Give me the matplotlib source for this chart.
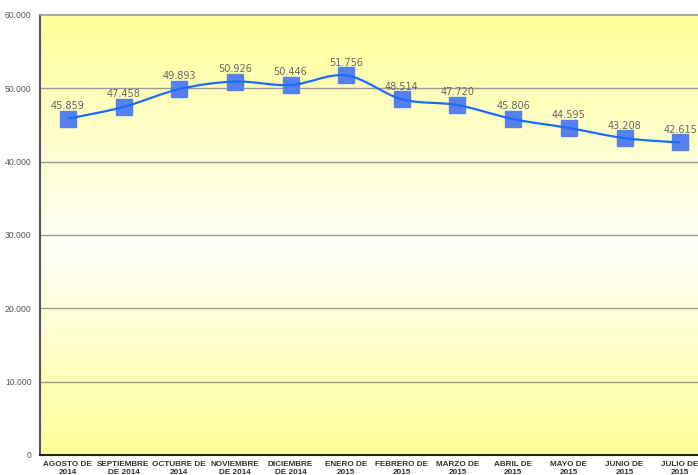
import matplotlib
matplotlib.use("Agg")
import matplotlib.pyplot as plt
import numpy as np
from matplotlib.path import Path
from matplotlib.patches import PathPatch
from matplotlib.colors import LinearSegmentedColormap

categories = ["AGOSTO DE\n2014", "SEPTIEMBRE\nDE 2014", "OCTUBRE DE\n2014", "NOVIEMBRE\nDE 2014",
              "DICIEMBRE\nDE 2014", "ENERO DE\n2015", "FEBRERO DE\n2015", "MARZO DE\n2015",
              "ABRIL DE\n2015", "MAYO DE\n2015", "JUNIO DE\n2015", "JULIO DE\n2015"]
values = [45859, 47458, 49893, 50926, 50446, 51756, 48514, 47720, 45806, 44595, 43208, 42615]
yticks = [0, 10000, 20000, 30000, 40000, 50000, 60000]

plt.rcParams['font.family'] = ['Liberation Sans', 'DejaVu Sans']

def fmt(v):
    return f"{v:,}".replace(",", ".")

fig = plt.figure(figsize=(6.98, 4.75), dpi=100)
ax = fig.add_axes([40/698, 20/475, 668/698, 440/475])
ax.set_xlim(-0.5, len(values) - 0.5)
ax.set_ylim(0, 60000)

# gradient background
cmap = LinearSegmentedColormap.from_list("g", [(0.0, "#ffff99"), (0.53, "#fffffa"), (1.0, "#ffff99")])
grad = np.linspace(0, 1, 256).reshape(-1, 1)
ax.imshow(grad, aspect='auto', cmap=cmap, extent=[-0.5, len(values) - 0.5, 0, 60000],
          origin='upper', zorder=0)

ax.set_yticks(yticks)
ax.set_yticklabels([fmt(t) if t else "0" for t in yticks])
for t in yticks[1:-1]:
    ax.axhline(t, color="#999999", lw=1.0, zorder=1)

x = np.arange(len(values))
y = np.array(values, dtype=float)

# smooth curve (Catmull-Rom to Bezier) through the data points
verts = [(x[0], y[0])]
codes = [Path.MOVETO]
n = len(x)
for i in range(n - 1):
    p0 = (x[i - 1], y[i - 1]) if i > 0 else (x[i], y[i])
    p1 = (x[i], y[i])
    p2 = (x[i + 1], y[i + 1])
    p3 = (x[i + 2], y[i + 2]) if i + 2 < n else (x[i + 1], y[i + 1])
    c1 = (p1[0] + (p2[0] - p0[0]) / 6, p1[1] + (p2[1] - p0[1]) / 6)
    c2 = (p2[0] - (p3[0] - p1[0]) / 6, p2[1] - (p3[1] - p1[1]) / 6)
    verts += [c1, c2, p2]
    codes += [Path.CURVE4] * 3

ax.plot(x, y, linestyle='none', marker='s', markersize=11, markerfacecolor="#5580ee",
        markeredgecolor="#5580ee", zorder=3, clip_on=False)
ax.add_patch(PathPatch(Path(verts, codes), facecolor='none', edgecolor="#1a6cff", lw=1.6, zorder=4))

for xi, v in zip(x, values):
    ax.annotate(fmt(v), (xi, v), xytext=(0, 5.5), textcoords='offset points', ha='center',
                va='bottom', fontsize=7, color="#666666", zorder=5, family='DejaVu Sans')

ax.set_xticks(x)
ax.set_xticklabels(categories, fontsize=5.9, fontweight='bold', color="#333333", linespacing=1.25)
ax.tick_params(axis='x', length=0, pad=4.5)
ax.tick_params(axis='y', length=0, pad=6, labelsize=6.2, labelcolor="#555555")

ax.spines['left'].set_color("#555555")
ax.spines['left'].set_linewidth(1.5)
ax.spines['bottom'].set_color("#222222")
ax.spines['bottom'].set_linewidth(1.5)
ax.spines['top'].set_color("#999999")
ax.spines['top'].set_linewidth(1.2)
ax.spines['right'].set_visible(False)

fig.savefig("out.png", dpi=100)
